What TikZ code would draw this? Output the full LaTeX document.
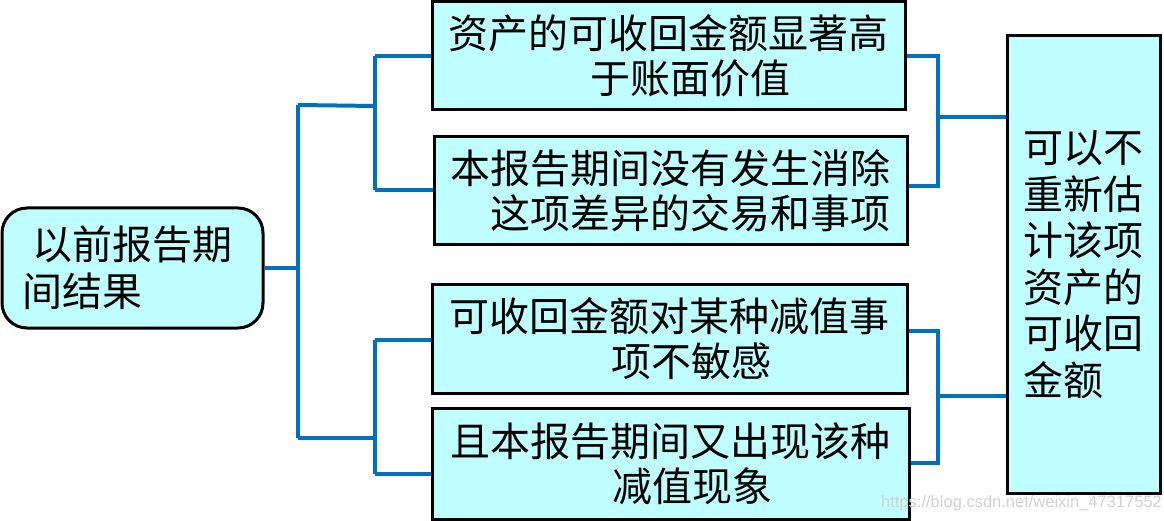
\documentclass[tikz,border=0pt]{standalone}
\usepackage{fontspec}
\newfontfamily\cjk{Noto Sans CJK SC}
\setmainfont{Liberation Sans}
\definecolor{boxfill}{HTML}{C0FFFF}
\definecolor{linkblue}{HTML}{0070C0}
\begin{document}
\begin{tikzpicture}[x=1pt,y=-1pt,
  box/.style={draw=black,line width=3pt,fill=boxfill,inner sep=0pt,align=center,
    font=\cjk\fontsize{40}{45}\selectfont},
  link/.style={draw=linkblue,line width=4pt}]
\useasboundingbox (0,0) rectangle (1164,521);
\node[box,rounded corners=25pt,minimum width=261pt,minimum height=120pt,align=left,
  font=\cjk\fontsize{40}{47}\selectfont] (L) at (132.5,268) {\hspace*{10pt}以前报告期\hspace*{10pt}\\间结果};
\node[box,minimum width=473pt,minimum height=108pt] (B1) at (668.5,56) {资产的可收回金额显著高\\\hspace*{44pt}于账面价值};
\node[box,minimum width=473pt,minimum height=108pt] (B2) at (670.5,191) {本报告期间没有发生消除\\\hspace*{40pt}这项差异的交易和事项};
\node[box,minimum width=475pt,minimum height=108pt] (B3) at (669.5,339) {可收回金额对某种减值事\\\hspace*{44pt}项不敏感};
\node[box,minimum width=477pt,minimum height=111pt] (B4) at (670.5,463.5) {且本报告期间又出现该种\\\hspace*{44pt}减值现象};
\node[box,minimum width=153pt,minimum height=457pt,align=left,
  font=\cjk\fontsize{40}{46.5}\selectfont] (R) at (1083.5,264.5) {可以不\\重新估\\计该项\\资产的\\可收回\\金额};
% left tree
\coordinate (j0) at (298,268);
\coordinate (j0t) at (298,105);
\coordinate (j0b) at (298,438);
\coordinate (j1) at (375,106);
\coordinate (j1t) at (375,56);
\coordinate (j1b) at (375,190);
\coordinate (j2) at (375,438);
\coordinate (j2t) at (375,340);
\coordinate (j2b) at (375,474);
\draw[link] (L.east |- j0) -- (j0);
\draw[link] (j0t) -- (j0b);
\draw[link] (j0t) -- (j1);
\draw[link] (j0b) -- (j2);
\draw[link] (j1t) -- (j1b);
\draw[link] (j2t) -- (j2b);
\draw[link] (j1t) -- (B1.west |- j1t);
\draw[link] (j1b) -- (B2.west |- j1b);
\draw[link] (j2t) -- (B3.west |- j2t);
\draw[link] (j2b) -- (B4.west |- j2b);
% right tree
\coordinate (k1t) at (938,56);
\coordinate (k1b) at (938,186);
\coordinate (k1) at (938,117);
\coordinate (k2t) at (938,331);
\coordinate (k2b) at (938,463);
\coordinate (k2) at (938,396);
\draw[link] (B1.east |- k1t) -- (k1t) -- (k1b) -- (B2.east |- k1b);
\draw[link] (k1) -- (R.west |- k1);
\draw[link] (B3.east |- k2t) -- (k2t) -- (k2b) -- (B4.east |- k2b);
\draw[link] (k2) -- (R.west |- k2);
% watermark
\node[anchor=west,inner sep=0pt,text=gray!35,font=\fontsize{16.5}{16.5}\selectfont] (wm) at (881,503) {https://blog.csdn.net/weixin\_47317552};
\end{tikzpicture}
\end{document}
